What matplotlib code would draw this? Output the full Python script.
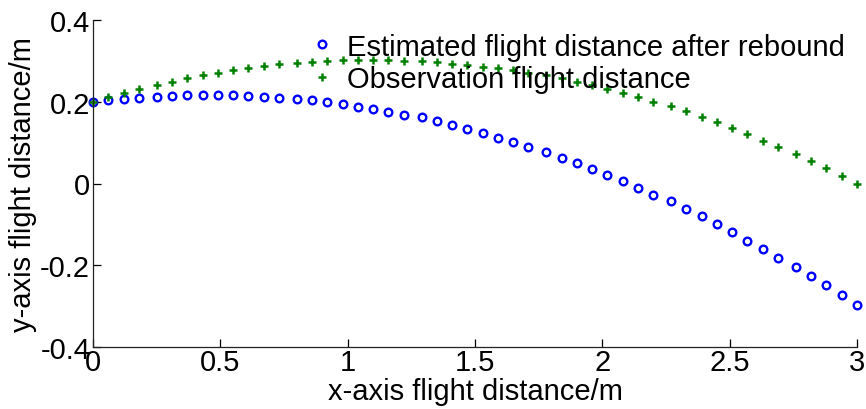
import matplotlib
matplotlib.use("Agg")
import matplotlib.pyplot as plt

plt.rcParams['font.family'] = ['Liberation Sans', 'DejaVu Sans']

x_m = [0.00, 0.06, 0.12, 0.18, 0.25, 0.31, 0.37, 0.43, 0.49, 0.55,
       0.61, 0.67, 0.73, 0.80, 0.86, 0.92, 0.98, 1.04, 1.10, 1.16,
       1.22, 1.29, 1.35, 1.41, 1.47, 1.53, 1.59, 1.65, 1.71, 1.78,
       1.84, 1.90, 1.96, 2.02, 2.08, 2.14, 2.20, 2.27, 2.33, 2.39,
       2.45, 2.51, 2.57, 2.63, 2.69, 2.76, 2.82, 2.88, 2.94, 3.00]

estimated_y = [0.200, 0.205, 0.207, 0.210, 0.212, 0.214, 0.216, 0.216, 0.216, 0.216,
               0.214, 0.212, 0.209, 0.207, 0.204, 0.199, 0.194, 0.188, 0.182, 0.175,
               0.168, 0.162, 0.152, 0.144, 0.133, 0.123, 0.112, 0.102, 0.089, 0.077,
               0.063, 0.051, 0.036, 0.022, 0.005, -0.010, -0.028, -0.044, -0.063, -0.080,
               -0.099, -0.119, -0.140, -0.160, -0.182, -0.204, -0.226, -0.248, -0.273, -0.297]

observed_y = [0.200, 0.212, 0.222, 0.232, 0.241, 0.249, 0.257, 0.265, 0.271, 0.277,
              0.283, 0.288, 0.292, 0.295, 0.298, 0.300, 0.302, 0.303, 0.303, 0.302,
              0.300, 0.299, 0.297, 0.293, 0.289, 0.286, 0.282, 0.278, 0.270, 0.265,
              0.257, 0.248, 0.240, 0.230, 0.222, 0.212, 0.199, 0.189, 0.177, 0.163,
              0.150, 0.137, 0.121, 0.104, 0.089, 0.073, 0.056, 0.038, 0.019, 0.000]

x_ticks = [0, 0.5, 1, 1.5, 2, 2.5, 3]
x_tick_labels = ['0', '0.5', '1', '1.5', '2', '2.5', '3']
y_ticks = [-0.4, -0.2, 0, 0.2, 0.4]
y_tick_labels = ['-0.4', '-0.2', '0', '0.2', '0.4']

labels = ['Estimated flight distance after rebound', 'Observation flight distance']

FS = 21

fig = plt.figure(figsize=(8.66, 4.10), dpi=100)
ax = fig.add_axes([93/866, 1-348/410, (857-93)/866, (348-21)/410])

ax.plot(x_m, estimated_y, linestyle='none', marker='o', markersize=5.5,
        markerfacecolor='none', markeredgecolor='#0000ff', markeredgewidth=1.7,
        label=labels[0], clip_on=False)
ax.plot(x_m, observed_y, linestyle='none', marker='+', markersize=5.5,
        color='#008000', markeredgewidth=1.8, label=labels[1], clip_on=False)

ax.set_xlim(0, 3)
ax.set_ylim(-0.4, 0.4)
ax.set_xticks(x_ticks)
ax.set_xticklabels(x_tick_labels)
ax.set_yticks(y_ticks)
ax.set_yticklabels(y_tick_labels)

for s in ['top', 'right']:
    ax.spines[s].set_visible(False)
for s in ['left', 'bottom']:
    ax.spines[s].set_linewidth(0.9)
    ax.spines[s].set_color('#222222')

ax.tick_params(direction='in', length=6, width=0.9, labelsize=FS, pad=2, colors='black')
ax.tick_params(axis='x', pad=1)
ax.set_xlabel('x-axis flight distance/m', fontsize=FS, labelpad=0.5)
ax.set_ylabel('y-axis flight distance/m', fontsize=FS, labelpad=2)

leg = ax.legend(loc='upper left', bbox_to_anchor=(0.2654, 0.997),
                frameon=False, fontsize=FS, handlelength=1.0, handletextpad=0.36,
                labelspacing=0.15, borderaxespad=0)

fig.savefig('out.png', dpi=100)
